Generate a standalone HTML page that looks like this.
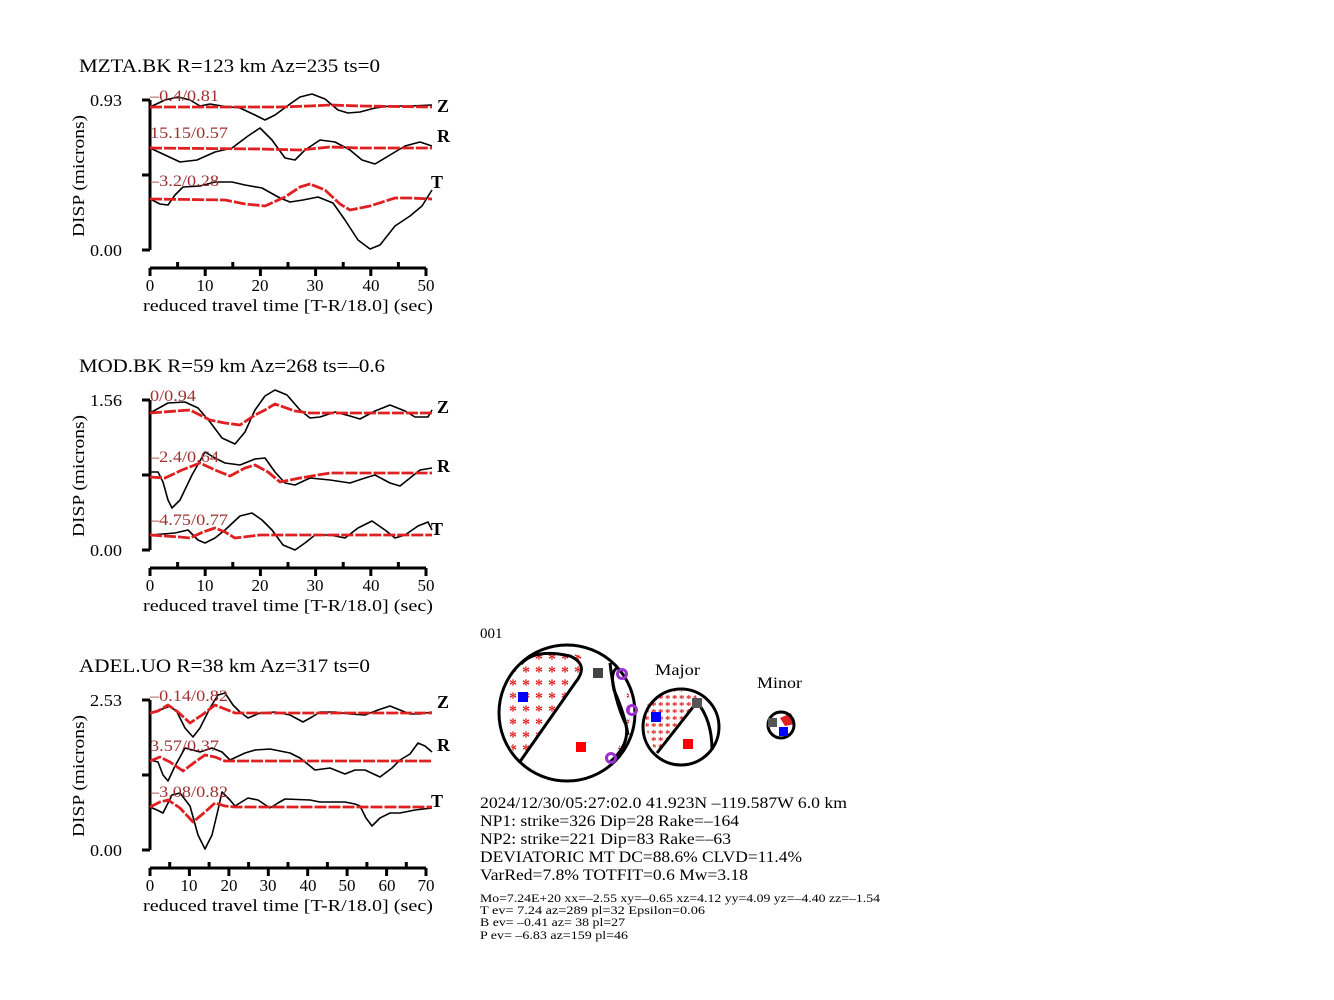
<!DOCTYPE html>
<html><head><meta charset="utf-8"><style>
body{margin:0;background:#fff}
svg{display:block;font-family:"Liberation Serif",serif}
.b{fill:none;stroke:#000;stroke-width:1.6;stroke-linejoin:round}
.r{fill:none;stroke:#e02020;stroke-width:2.8;stroke-dasharray:12 2;stroke-linejoin:round}
.ax{stroke:#000;stroke-width:3;fill:none}
.lbl{fill:#a03030;font-size:16px}
.c{font-size:18px;font-weight:bold}
</style></head><body>
<svg width="1334" height="1000" viewBox="0 0 1334 1000">
<g font-size="19">
<text x="79" y="72" textLength="301" lengthAdjust="spacingAndGlyphs">MZTA.BK R=123 km Az=235 ts=0</text>
<text x="79" y="372" textLength="306" lengthAdjust="spacingAndGlyphs">MOD.BK R=59 km Az=268 ts=–0.6</text>
<text x="79" y="672" textLength="291" lengthAdjust="spacingAndGlyphs">ADEL.UO R=38 km Az=317 ts=0</text>
</g>
<g>
<path class="ax" d="M150,100V250M142,100H150M142,175H150M142,250H150"/>
<path class="ax" d="M150,268H426M150,268v8M177.6,268v-6M205.2,268v8M232.8,268v-6M260.4,268v8M288,268v-6M315.6,268v8M343.2,268v-6M370.8,268v8M398.4,268v-6M426,268v8"/>
<text x="122" y="106" font-size="17" text-anchor="end" textLength="32" lengthAdjust="spacingAndGlyphs">0.93</text>
<text x="122" y="256" font-size="17" text-anchor="end" textLength="32" lengthAdjust="spacingAndGlyphs">0.00</text>
<g font-size="17" text-anchor="middle"><text x="150" y="291">0</text><text x="205" y="291">10</text><text x="260" y="291">20</text><text x="315" y="291">30</text><text x="371" y="291">40</text><text x="426" y="291">50</text></g>
<text x="143" y="311" font-size="17" textLength="290" lengthAdjust="spacingAndGlyphs">reduced travel time [T-R/18.0] (sec)</text>
<text transform="translate(84,176) rotate(-90)" font-size="17" text-anchor="middle" textLength="122" lengthAdjust="spacingAndGlyphs">DISP (microns)</text>
</g>
<g transform="translate(0,300)">
<path class="ax" d="M150,100V250M142,100H150M142,175H150M142,250H150"/>
<path class="ax" d="M150,268H426M150,268v8M177.6,268v-6M205.2,268v8M232.8,268v-6M260.4,268v8M288,268v-6M315.6,268v8M343.2,268v-6M370.8,268v8M398.4,268v-6M426,268v8"/>
<text x="122" y="106" font-size="17" text-anchor="end" textLength="32" lengthAdjust="spacingAndGlyphs">1.56</text>
<text x="122" y="256" font-size="17" text-anchor="end" textLength="32" lengthAdjust="spacingAndGlyphs">0.00</text>
<g font-size="17" text-anchor="middle"><text x="150" y="291">0</text><text x="205" y="291">10</text><text x="260" y="291">20</text><text x="315" y="291">30</text><text x="371" y="291">40</text><text x="426" y="291">50</text></g>
<text x="143" y="311" font-size="17" textLength="290" lengthAdjust="spacingAndGlyphs">reduced travel time [T-R/18.0] (sec)</text>
<text transform="translate(84,176) rotate(-90)" font-size="17" text-anchor="middle" textLength="122" lengthAdjust="spacingAndGlyphs">DISP (microns)</text>
</g>
<g transform="translate(0,600)">
<path class="ax" d="M150,100V250M142,100H150M142,175H150M142,250H150"/>
<path class="ax" d="M150,268H426M150,268v8M169.7,268v-6M189.4,268v8M209.1,268v-6M228.9,268v8M248.6,268v-6M268.3,268v8M288,268v-6M307.7,268v8M327.4,268v-6M347.1,268v8M366.9,268v-6M386.6,268v8M406.3,268v-6M426,268v8"/>
<text x="122" y="106" font-size="17" text-anchor="end" textLength="32" lengthAdjust="spacingAndGlyphs">2.53</text>
<text x="122" y="256" font-size="17" text-anchor="end" textLength="32" lengthAdjust="spacingAndGlyphs">0.00</text>
<g font-size="17" text-anchor="middle"><text x="150" y="291">0</text><text x="189" y="291">10</text><text x="229" y="291">20</text><text x="268" y="291">30</text><text x="308" y="291">40</text><text x="347" y="291">50</text><text x="387" y="291">60</text><text x="426" y="291">70</text></g>
<text x="143" y="311" font-size="17" textLength="290" lengthAdjust="spacingAndGlyphs">reduced travel time [T-R/18.0] (sec)</text>
<text transform="translate(84,176) rotate(-90)" font-size="17" text-anchor="middle" textLength="122" lengthAdjust="spacingAndGlyphs">DISP (microns)</text>
</g>
<!-- Panel 1 traces -->
<polyline class="b" points="150,107 165,100 178,97 190,100 200,106 210,104 222,106 240,108 255,115 265,120 275,115 290,104 300,97 312,94 325,99 338,110 348,113 360,112 375,108 390,106 410,106 432,105"/>
<polyline class="r" points="150,107 280,107 310,106 330,105 360,106 432,107"/>
<polyline class="b" points="150,148 165,155 180,162 197,160 215,152 232,148 248,136 260,128 272,140 285,158 295,160 305,150 320,140 335,142 350,150 362,160 375,164 390,155 405,146 420,142 432,146"/>
<polyline class="r" points="150,148 260,149 300,150 330,147 360,148 432,148"/>
<polyline class="b" points="150,199 160,204 168,205 175,195 183,187 200,186 215,182 232,182 245,185 262,188 280,198 290,202 303,200 318,197 333,203 345,220 358,240 370,249 380,245 395,226 410,216 422,206 432,190"/>
<polyline class="r" points="150,199 225,200 245,204 265,206 285,197 300,187 310,184 325,190 340,204 350,210 370,206 395,198 410,198 432,199"/>
<g class="lbl"><text x="150" y="101" textLength="69" lengthAdjust="spacingAndGlyphs">–0.4/0.81</text><text x="150" y="138" textLength="78" lengthAdjust="spacingAndGlyphs">15.15/0.57</text><text x="150" y="186" textLength="69" lengthAdjust="spacingAndGlyphs">–3.2/0.28</text></g>
<g class="c"><text x="437" y="112">Z</text><text x="437" y="142">R</text><text x="431" y="188">T</text></g>
<!-- Panel 2 traces -->
<polyline class="b" points="150,413 168,403 185,402 198,408 210,422 222,438 235,444 245,432 255,410 265,396 275,390 287,395 300,410 310,418 320,417 335,412 350,416 360,419 375,411 390,405 405,411 415,417 428,417 432,410"/>
<polyline class="r" points="150,413 190,410 210,420 225,423 240,425 255,415 265,410 275,404 295,411 310,413 432,413"/>
<polyline class="b" points="150,472 158,472 163,482 168,500 172,508 180,500 192,475 205,452 215,458 225,463 240,465 255,459 265,458 275,472 285,483 295,485 310,478 330,480 350,483 365,478 375,475 390,483 400,486 410,478 420,470 432,468"/>
<polyline class="r" points="150,477 165,478 182,470 200,463 215,470 230,476 245,468 255,465 268,472 280,482 300,478 330,473 432,473"/>
<polyline class="b" points="150,535 175,533 188,530 198,540 205,543 215,538 225,530 240,516 252,513 262,520 272,530 283,545 295,550 305,543 315,535 330,535 345,538 358,528 372,521 385,530 395,538 405,535 418,526 428,522 432,530"/>
<polyline class="r" points="150,535 180,537 190,538 203,532 215,528 225,532 235,538 260,535 432,535"/>
<g class="lbl"><text x="150" y="401" textLength="46" lengthAdjust="spacingAndGlyphs">0/0.94</text><text x="150" y="462" textLength="69" lengthAdjust="spacingAndGlyphs">–2.4/0.64</text><text x="150" y="525" textLength="78" lengthAdjust="spacingAndGlyphs">–4.75/0.77</text></g>
<g class="c"><text x="437" y="413">Z</text><text x="437" y="472">R</text><text x="431" y="535">T</text></g>
<!-- Panel 3 traces -->
<polyline class="b" points="150,713 160,710 170,706 177,712 185,728 193,737 200,728 210,708 218,695 225,693 233,705 240,712 248,718 260,713 275,712 290,715 303,722 312,717 320,712 335,712 350,714 365,715 378,710 390,706 400,710 410,714 420,714 432,712"/>
<polyline class="r" points="150,713 158,711 168,705 178,712 190,723 202,715 215,705 225,709 235,713 432,713"/>
<polyline class="b" points="150,760 158,762 163,775 168,781 175,766 185,748 200,752 212,748 222,752 230,760 245,753 255,750 270,749 290,753 300,758 315,770 330,768 345,774 355,770 365,770 380,777 392,768 400,760 410,754 418,743 425,746 432,752"/>
<polyline class="r" points="150,761 160,757 170,762 183,771 195,762 205,755 215,757 225,761 432,761"/>
<polyline class="b" points="150,807 157,810 163,813 172,795 180,793 190,806 198,835 205,849 212,835 218,810 222,792 230,800 235,806 248,798 258,800 270,808 278,803 285,799 310,800 320,802 345,802 355,804 360,806 366,818 372,826 380,818 390,813 400,813 415,810 432,808"/>
<polyline class="r" points="150,807 160,802 168,800 180,808 193,822 205,812 215,803 225,806 235,807 432,807"/>
<g class="lbl"><text x="150" y="701" textLength="78" lengthAdjust="spacingAndGlyphs">–0.14/0.82</text><text x="150" y="751" textLength="69" lengthAdjust="spacingAndGlyphs">3.57/0.37</text><text x="150" y="797" textLength="78" lengthAdjust="spacingAndGlyphs">–3.08/0.82</text></g>
<g class="c"><text x="437" y="708">Z</text><text x="437" y="751">R</text><text x="431" y="807">T</text></g>

<!-- beachballs -->
<text x="480" y="638" font-size="15">001</text>
<defs><pattern id="st" width="13" height="13" patternUnits="userSpaceOnUse"><text x="2" y="14" font-size="16" font-weight="bold" fill="#e02020">*</text></pattern>
<pattern id="st2" width="7" height="7" patternUnits="userSpaceOnUse"><text x="0" y="9" font-size="11" font-weight="bold" fill="#e02020">*</text></pattern></defs>
<path d="M519,763 L583,672 Q590,655 568,652 Q525,650 508,680 Q495,720 519,763Z" fill="url(#st)"/>
<path d="M617,668 Q625,690 626,725 Q620,750 612,758 Q632,740 630,700 Q626,680 617,668Z" fill="url(#st)"/>
<circle cx="567" cy="713" r="68" fill="none" stroke="#000" stroke-width="3"/>
<path d="M519,763 L575,683 Q590,665 570,656 Q535,648 521,664" fill="none" stroke="#000" stroke-width="3"/>
<path d="M610,663 Q614,700 626,725 Q630,745 610,762" fill="none" stroke="#000" stroke-width="3"/>
<path d="M617,668 Q610,672 614,690 Q625,715 628,735" fill="none" stroke="#000" stroke-width="3"/>
<rect x="518" y="692" width="10" height="10" fill="#0000ff"/>
<rect x="576" y="742" width="10" height="10" fill="#ff0000"/>
<rect x="593" y="668" width="10" height="10" fill="#444"/>
<g fill="none" stroke="#9b30d0" stroke-width="3"><circle cx="622" cy="674" r="4.5"/><circle cx="632" cy="710" r="4.5"/><circle cx="611" cy="758" r="4.5"/></g>
<text x="655" y="675" font-size="16" textLength="45" lengthAdjust="spacingAndGlyphs">Major</text>
<path d="M657,753 L695,703 Q700,695 690,692 Q660,688 647,705 Q640,725 657,753Z" fill="url(#st2)"/>
<circle cx="681" cy="727" r="38" fill="none" stroke="#000" stroke-width="3"/>
<path d="M657,753 L697,702 M697,702 Q712,720 712,750" fill="none" stroke="#000" stroke-width="3"/>
<rect x="651" y="712" width="10" height="10" fill="#0000ff"/>
<rect x="683" y="739" width="10" height="10" fill="#ff0000"/>
<rect x="692" y="698" width="10" height="10" fill="#555"/>
<text x="757" y="688" font-size="16" textLength="45" lengthAdjust="spacingAndGlyphs">Minor</text>
<path d="M780,718 L791,713 L795,724 L785,726Z" fill="#e02020"/>
<circle cx="781" cy="725" r="13" fill="none" stroke="#000" stroke-width="3"/>
<rect x="768" y="718" width="9" height="9" fill="#555"/>
<rect x="779" y="727" width="9" height="9" fill="#0000ff"/>
<g font-size="16"><text x="480" y="808" textLength="367" lengthAdjust="spacingAndGlyphs">2024/12/30/05:27:02.0 41.923N –119.587W 6.0 km</text>
<text x="480" y="826" textLength="259" lengthAdjust="spacingAndGlyphs">NP1: strike=326 Dip=28 Rake=–164</text>
<text x="480" y="844" textLength="251" lengthAdjust="spacingAndGlyphs">NP2: strike=221 Dip=83 Rake=–63</text>
<text x="480" y="862" textLength="322" lengthAdjust="spacingAndGlyphs">DEVIATORIC MT DC=88.6% CLVD=11.4%</text>
<text x="480" y="880" textLength="268" lengthAdjust="spacingAndGlyphs">VarRed=7.8% TOTFIT=0.6 Mw=3.18</text></g>
<g font-size="12"><text x="480" y="902" textLength="400" lengthAdjust="spacingAndGlyphs">Mo=7.24E+20 xx=–2.55 xy=–0.65 xz=4.12 yy=4.09 yz=–4.40 zz=–1.54</text>
<text x="480" y="914" textLength="225" lengthAdjust="spacingAndGlyphs">T ev=  7.24 az=289 pl=32 Epsilon=0.06</text>
<text x="480" y="926" textLength="145" lengthAdjust="spacingAndGlyphs">B ev= –0.41 az= 38 pl=27</text>
<text x="480" y="939" textLength="148" lengthAdjust="spacingAndGlyphs">P ev= –6.83 az=159 pl=46</text></g>
</svg>
</body></html>
